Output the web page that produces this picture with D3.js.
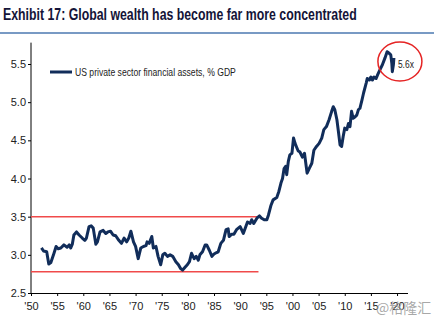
<!doctype html>
<html>
  <head>
    <script src="https://cdnjs.cloudflare.com/ajax/libs/d3/7.8.5/d3.min.js"></script>
  <style>
    body { margin: 0; background: #fff; }
    svg { display: block; }
    .axis path.domain { stroke: #000; stroke-width: 1; }
    .axis .tick line { stroke: #000; }
    .axis .tick text {
      fill: #222;
      font-family: "Liberation Sans", Arial, sans-serif;
      font-size: 11px;
    }
  </style>
  </head>
  <body>
    <svg id="chart" width="434" height="322"></svg>
    <script>
      // US private sector financial assets, % of GDP (multiple of GDP)
      var years = [
        1952.0, 1952.4, 1953.0, 1953.4, 1953.8, 1954.3, 1954.8, 1955.2, 1955.7, 1956.3,
        1956.9, 1957.3, 1957.6, 1957.9, 1958.2, 1958.7, 1959.2, 1959.8, 1960.3, 1960.6,
        1961.1, 1961.5, 1961.9, 1962.4, 1962.7, 1963.2, 1963.8, 1964.3, 1964.7, 1965.2,
        1965.7, 1966.2, 1966.8, 1967.3, 1967.8, 1968.3, 1968.7, 1969.1, 1969.6, 1970.0,
        1970.5, 1971.0, 1971.5, 1972.0, 1972.2, 1972.6, 1973.1, 1973.4, 1973.9, 1974.3,
        1974.8, 1975.2, 1975.6, 1976.1, 1976.6, 1977.1, 1977.7, 1978.2, 1978.6, 1979.0,
        1979.5, 1979.9, 1980.3, 1980.7, 1981.2, 1981.6, 1982.0, 1982.3, 1982.8, 1983.3,
        1983.6, 1984.1, 1984.6, 1985.0, 1985.5, 1985.8, 1986.3, 1986.8, 1987.3, 1987.7,
        1987.9, 1988.4, 1988.8, 1989.3, 1990.0, 1990.6, 1991.4, 1991.9, 1992.2, 1992.6,
        1993.2, 1993.7, 1994.1, 1994.6, 1995.1, 1995.4, 1995.9, 1996.3, 1997.0, 1997.4,
        1997.8, 1998.1, 1998.4, 1998.7, 1998.9, 1999.2, 1999.5, 1999.9, 2000.2, 2000.5,
        2000.8, 2001.1, 2001.4, 2001.9, 2002.3, 2002.8, 2003.2, 2003.7, 2004.1, 2004.6,
        2005.1, 2005.6, 2006.0, 2006.5, 2007.0, 2007.5, 2007.8, 2008.1, 2008.5, 2008.8,
        2009.1, 2009.4, 2009.7, 2010.0, 2010.4, 2010.7, 2011.0, 2011.3, 2011.6, 2012.0,
        2012.3, 2012.6, 2012.9, 2013.3, 2013.6, 2014.1, 2014.3, 2014.7, 2015.0, 2015.3,
        2015.6, 2016.0, 2016.3, 2016.7, 2017.2, 2017.7, 2018.1, 2018.5, 2018.8, 2019.0,
        2019.1, 2019.3, 2019.4
      ];
      var assets = [
        3.09, 3.05, 3.04, 2.88, 2.90, 3.00, 3.11, 3.08, 3.09, 3.13,
        3.10, 3.13, 3.09, 3.14, 3.26, 3.30, 3.26, 3.22, 3.19, 3.22,
        3.37, 3.38, 3.35, 3.14, 3.17, 3.30, 3.32, 3.28, 3.30, 3.31,
        3.26, 3.25, 3.19, 3.15, 3.22, 3.17, 3.22, 3.31, 3.17, 3.11,
        2.95, 3.09, 3.11, 3.12, 3.17, 3.15, 3.24, 3.09, 3.11, 2.98,
        2.87, 3.00, 3.02, 2.98, 3.00, 2.98, 2.91, 2.87, 2.82, 2.80,
        2.84, 2.87, 2.91, 3.02, 2.95, 2.98, 2.93, 3.00, 3.04, 3.13,
        3.13, 3.06, 2.98, 3.01, 3.03, 3.04, 3.15, 3.19, 3.33, 3.34,
        3.24, 3.27, 3.27, 3.33, 3.37, 3.28, 3.43, 3.41, 3.46, 3.41,
        3.48, 3.51, 3.48, 3.46, 3.46, 3.52, 3.65, 3.72, 3.75, 3.83,
        3.94, 4.00, 4.13, 4.16, 4.05, 4.22, 4.31, 4.33, 4.53, 4.46,
        4.41, 4.36, 4.35, 4.28, 4.33, 4.07, 4.13, 4.20, 4.37, 4.42,
        4.46, 4.53, 4.64, 4.68, 4.77, 4.88, 4.94, 4.90, 4.77, 4.61,
        4.44, 4.42, 4.55, 4.66, 4.64, 4.72, 4.68, 4.88, 4.79, 4.81,
        4.83, 4.90, 4.92, 5.03, 5.12, 5.25, 5.31, 5.29, 5.33, 5.29,
        5.33, 5.31, 5.36, 5.42, 5.49, 5.58, 5.66, 5.64, 5.62, 5.51,
        5.40, 5.49, 5.58
      ];

      var yTicks = [2.5, 3.0, 3.5, 4.0, 4.5, 5.0, 5.5];
      var xTicks = [1950, 1955, 1960, 1965, 1970, 1975, 1980, 1985, 1990, 1995, 2000, 2005, 2010, 2015, 2020];

      // historical range the series kept to before the 1990s
      var bandLevels = [3.5, 2.78];
      var bandEnd = 1993.5;

      var title = "Exhibit 17: Global wealth has become far more concentrated";
      var seriesName = "US private sector financial assets, % GDP";
      var callout = "5.6x";
      var source = "@格隆汇";

      var svg = d3.select("#chart");
      var sans = "'Liberation Sans', Arial, sans-serif";

      var x = d3.scaleLinear().domain([1950, 2022]).range([31, 407.5]);
      var y = d3.scaleLinear().domain([2.5, 5.5]).range([293, 64]);

      // squeeze a text horizontally to a given width, anchored at (x0, y0)
      function condensed(sel, x0, y0, width) {
        var w = sel.node().getComputedTextLength();
        sel.attr("transform", "translate(" + x0 + "," + y0 + ") scale(" + (width / w) + ",1)");
        return sel;
      }

      // title with rule beneath
      var titleText = svg.append("text")
        .attr("fill", "#141438")
        .style("font-family", sans)
        .style("font-weight", "bold")
        .style("font-size", "16px")
        .text(title);
      condensed(titleText, 3, 20, 354);
      svg.append("line")
        .attr("x1", 0).attr("x2", 434)
        .attr("y1", 33).attr("y2", 33)
        .attr("stroke", "#4b78b0").attr("stroke-width", 1.5);

      // axes
      var yAxis = d3.axisLeft(y)
        .tickValues(yTicks)
        .tickSize(3)
        .tickPadding(2)
        .tickSizeOuter(0)
        .tickFormat(d3.format(".1f"));
      var yG = svg.append("g").attr("class", "axis")
        .attr("transform", "translate(31,0)")
        .call(yAxis);
      yG.select("path.domain").attr("d", "M0," + y(5.78) + "V" + y(2.5));

      var xAxis = d3.axisBottom(x)
        .tickValues(xTicks)
        .tickSize(3)
        .tickPadding(6)
        .tickSizeOuter(0)
        .tickFormat(d => "'" + String(d).slice(2));
      svg.append("g").attr("class", "axis")
        .attr("transform", "translate(0," + y(2.5) + ")")
        .call(xAxis);

      // range lines
      svg.selectAll("line.band")
        .data(bandLevels)
        .enter().append("line")
          .attr("class", "band")
          .attr("x1", x(1950)).attr("x2", x(bandEnd))
          .attr("y1", d => y(d)).attr("y2", d => y(d))
          .attr("stroke", "#f04a4a")
          .attr("stroke-width", 1.5);

      // series
      var line = d3.line()
        .x((d, i) => x(years[i]))
        .y(d => y(d));
      svg.append("path")
        .attr("d", line(assets))
        .attr("fill", "none")
        .attr("stroke", "#112d5a")
        .attr("stroke-width", 3)
        .attr("stroke-linejoin", "round");

      // legend
      svg.append("line")
        .attr("x1", 50).attr("x2", 72)
        .attr("y1", 72).attr("y2", 72)
        .attr("stroke", "#112d5a").attr("stroke-width", 3);
      var legendText = svg.append("text")
        .attr("fill", "#222")
        .style("font-family", sans)
        .style("font-size", "11px")
        .text(seriesName);
      condensed(legendText, 75, 76, 161);

      // callout on the latest reading
      var lastYear = years[years.length - 1];
      svg.append("ellipse")
        .attr("cx", x(lastYear) + 6).attr("cy", 61.5)
        .attr("rx", 22).attr("ry", 19.5)
        .attr("fill", "none")
        .attr("stroke", "#e52424").attr("stroke-width", 1.5);
      var calloutText = svg.append("text")
        .attr("fill", "#222")
        .style("font-family", sans)
        .style("font-size", "11px")
        .text(callout);
      condensed(calloutText, x(lastYear) + 4, 68, 16);

      // source mark
      svg.append("text")
        .attr("x", 376).attr("y", 313)
        .attr("fill", "#999")
        .attr("fill-opacity", 0.85)
        .style("font-family", "'Noto Sans CJK SC', sans-serif")
        .style("font-size", "14px")
        .text(source);
    </script>
  </body>
</html>
